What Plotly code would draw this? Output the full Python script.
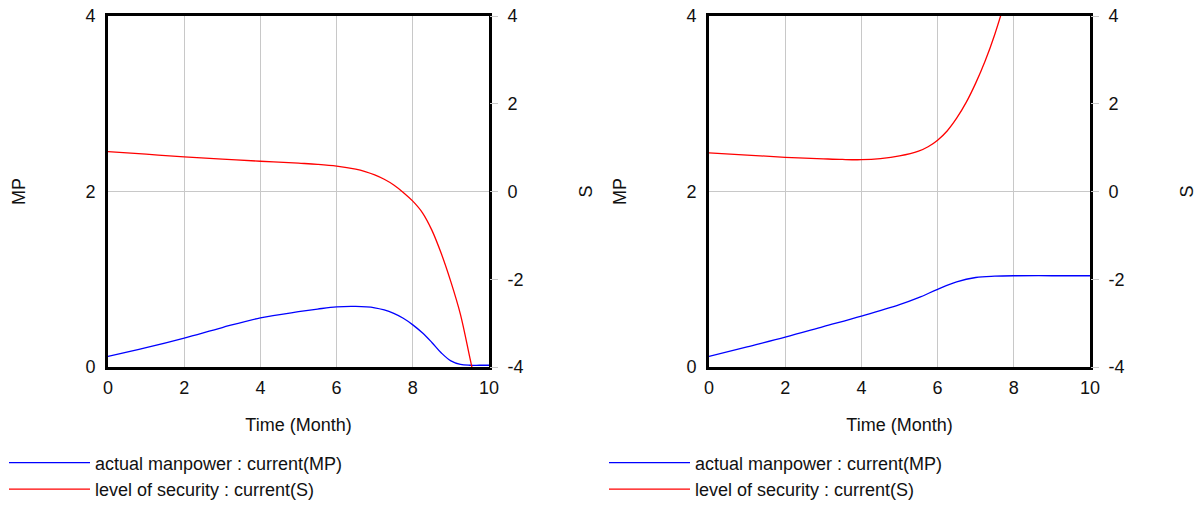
import plotly.graph_objects as go

# ---------------- data ----------------
t_left = [0, 1, 2, 3, 4, 5, 5.5, 6, 6.5, 7, 7.25, 7.5, 7.75, 8, 8.25, 8.5, 8.75, 9, 9.25, 9.5, 9.75, 10]
mp_left = [0.12, 0.22, 0.33, 0.45, 0.56, 0.63, 0.66, 0.685, 0.69, 0.675, 0.65, 0.61, 0.555, 0.48, 0.39, 0.28, 0.16, 0.07, 0.03, 0.02, 0.02, 0.02]

ts_left = [0, 1, 2, 3, 4, 5, 5.5, 6, 6.5, 6.75, 7, 7.25, 7.5, 7.75, 8, 8.25, 8.5, 8.75, 9, 9.25, 9.5, 9.6]
s_left = [0.91, 0.85, 0.79, 0.74, 0.69, 0.645, 0.62, 0.58, 0.51, 0.455, 0.38, 0.28, 0.15, -0.02, -0.22, -0.48, -0.88, -1.42, -2.06, -2.80, -3.80, -4.20]

t_right = [0, 1, 2, 3, 4, 5, 5.5, 6, 6.5, 7, 7.5, 8, 9, 10]
mp_right = [0.12, 0.23, 0.34, 0.46, 0.58, 0.71, 0.79, 0.885, 0.97, 1.02, 1.035, 1.04, 1.04, 1.04]

ts_right = [0, 1, 2, 3, 3.5, 4, 4.5, 5, 5.5, 5.75, 6, 6.25, 6.5, 6.75, 7, 7.25, 7.5, 7.75]
s_right = [0.88, 0.83, 0.78, 0.745, 0.73, 0.725, 0.75, 0.81, 0.92, 1.02, 1.17, 1.38, 1.67, 2.03, 2.47, 2.98, 3.58, 4.28]

series_names = ["actual manpower : current(MP)", "level of security : current(S)"]
x_title = "Time (Month)"
x_ticks = [0, 2, 4, 6, 8, 10]
mp_ticks = [0, 2, 4]
s_ticks = [-4, -2, 0, 2, 4]
s_tick_labels = ["-4", "-2", "0", "2", "4"]

BLUE = "#0000ff"
RED = "#ff0000"
FONT = "Liberation Sans"
FS = 18

W, H = 1203, 506
def px_x(p):
    return p / W
def px_y(p):
    return 1 - p / H

left_dom = [px_x(108), px_x(489)]
right_dom = [px_x(709), px_x(1090)]
y_dom = [px_y(367), px_y(16)]

fig = go.Figure()

LINE = dict(width=1.3, shape="spline", smoothing=1.0)
fig.add_trace(go.Scatter(x=t_left, y=mp_left, mode="lines", name=series_names[0],
                         line=dict(color=BLUE, **LINE), xaxis="x", yaxis="y",
                         legend="legend", legendgroup="a"))
fig.add_trace(go.Scatter(x=ts_left, y=s_left, mode="lines", name=series_names[1],
                         line=dict(color=RED, **LINE), xaxis="x", yaxis="y2",
                         legend="legend", legendgroup="b"))
fig.add_trace(go.Scatter(x=t_right, y=mp_right, mode="lines", name=series_names[0],
                         line=dict(color=BLUE, **LINE), xaxis="x2", yaxis="y3",
                         legend="legend2", legendgroup="c"))
fig.add_trace(go.Scatter(x=ts_right, y=s_right, mode="lines", name=series_names[1],
                         line=dict(color=RED, **LINE), xaxis="x2", yaxis="y4",
                         legend="legend2", legendgroup="d"))

tickfont = dict(family=FONT, size=FS, color="#111")
titlefont = dict(family=FONT, size=FS, color="#111")
GRID = "#c8c8c8"

def xaxis(dom, anchor):
    return dict(domain=dom, anchor=anchor, range=[0, 10], tickvals=x_ticks,
                showgrid=True, gridcolor=GRID, gridwidth=1, zeroline=False,
                showline=True, linecolor="black", linewidth=3, mirror=True,
                ticks="", tickfont=tickfont, ticklabelstandoff=2, automargin=False,
                title=dict(text=x_title, font=titlefont, standoff=22))

def mpaxis(anchor):
    return dict(domain=y_dom, anchor=anchor, range=[0, 4], tickvals=mp_ticks,
                showgrid=True, gridcolor=GRID, gridwidth=1, zeroline=False,
                showline=True, linecolor="black", linewidth=3, mirror=True,
                ticks="", tickfont=tickfont, ticklabelstandoff=6, automargin=False,
                title=dict(text="MP", font=titlefont, standoff=56))

def saxis(overlay, anchor):
    return dict(overlaying=overlay, anchor=anchor, side="right", range=[-4, 4],
                tickvals=s_ticks, ticktext=s_tick_labels,
                showgrid=False, zeroline=False, showline=False,
                ticks="outside", ticklen=8, tickcolor="#c8c8c8", tickwidth=1,
                tickfont=tickfont, ticklabelstandoff=6, automargin=False,
                title=dict(text="S", font=titlefont, standoff=56))

LEG = dict(xanchor="left", yanchor="middle",
           font=dict(family=FONT, size=FS, color="#111"),
           itemwidth=81, tracegroupgap=0, traceorder="grouped",
           bgcolor="rgba(0,0,0,0)")

fig.update_layout(
    width=W, height=H,
    margin=dict(l=0, r=0, t=0, b=0, autoexpand=False),
    paper_bgcolor="white", plot_bgcolor="white",
    xaxis=xaxis(left_dom, "y"),
    xaxis2=xaxis(right_dom, "y3"),
    yaxis=mpaxis("x"),
    yaxis2=saxis("y", "x"),
    yaxis3=mpaxis("x2"),
    yaxis4=saxis("y3", "x2"),
    legend=dict(x=px_x(4), y=px_y(476), **LEG),
    legend2=dict(x=px_x(604), y=px_y(476), **LEG),
    showlegend=True,
)

fig.write_html("out.html")
